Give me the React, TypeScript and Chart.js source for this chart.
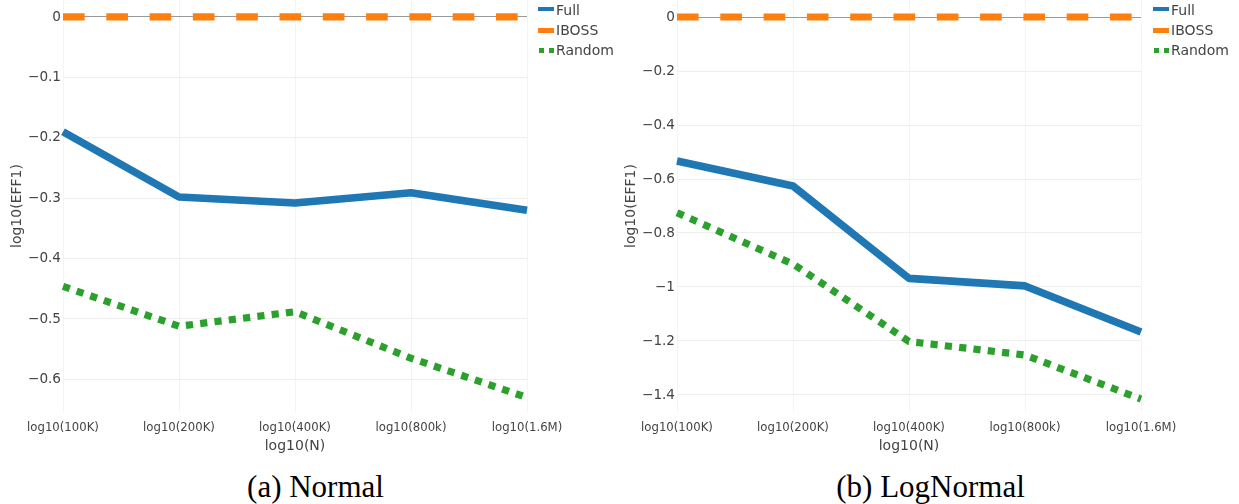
import React, { useEffect, useRef } from 'react';
import { Chart, registerables } from 'chart.js';

Chart.register(...registerables);

const categories = ['log10(100K)', 'log10(200K)', 'log10(400K)', 'log10(800k)', 'log10(1.6M)'];
const seriesNames = ['Full', 'IBOSS', 'Random'];
const seriesColors = ['#1f77b4', '#ff7f0e', '#2ca02c'];

const normalFull = [-0.19, -0.298, -0.308, -0.291, -0.32];
const normalIboss = [0, 0, 0, 0, 0];
const normalRandom = [-0.446, -0.512, -0.488, -0.565, -0.63];

const lognormalFull = [-0.533, -0.626, -0.968, -0.996, -1.167];
const lognormalIboss = [0, 0, 0, 0, 0];
const lognormalRandom = [-0.725, -0.915, -1.202, -1.252, -1.415];

const xTitle = 'log10(N)';
const yTitle = 'log10(EFF1)';
const captions = ['(a) Normal', '(b) LogNormal'];

const SANS = '"DejaVu Sans", Verdana, sans-serif';
const TEXT = '#444';

function fmt(v: number): string {
  const r = Math.round(v * 100) / 100;
  if (r === 0) return '0';
  const s = String(Math.abs(r));
  return r < 0 ? '\u2212' + s : s;
}

type PanelProps = {
  left: number;
  full: number[];
  iboss: number[];
  random: number[];
  yMin: number;
  yMax: number;
  step: number;
};

function Panel({ left, full, iboss, random, yMin, yMax, step }: PanelProps) {
  const ref = useRef<HTMLCanvasElement>(null);
  useEffect(() => {
    if (!ref.current) return;
    const values = [full, iboss, random];
    const dashes = [[], [21.65, 21.65], [7.2, 7.2]];
    const widths = [7.6, 7.2, 7.2];
    const chart = new Chart(ref.current, {
      type: 'line',
      data: {
        labels: categories,
        datasets: seriesNames.map((name, i) => ({
          label: name,
          data: values[i],
          borderColor: seriesColors[i],
          backgroundColor: seriesColors[i],
          borderWidth: widths[i],
          borderDash: dashes[i],
          borderCapStyle: 'butt',
          borderJoinStyle: 'round',
          pointRadius: 0,
          pointHoverRadius: 0,
          tension: 0,
          fill: false,
        })),
      },
      options: {
        animation: false,
        responsive: false,
        maintainAspectRatio: false,
        events: [],
        layout: { padding: { top: 0, left: 0, right: 50, bottom: 5.6 } },
        plugins: { legend: { display: false }, tooltip: { enabled: false } },
        scales: {
          x: {
            type: 'category',
            offset: false,
            border: { display: false },
            grid: { color: '#f4f4f4', drawTicks: false, lineWidth: 1 },
            ticks: {
              color: TEXT,
              font: { family: SANS, size: 11.7 },
              padding: 9,
              maxRotation: 0,
              autoSkip: false,
            },
            title: {
              display: true,
              text: xTitle,
              color: TEXT,
              font: { family: SANS, size: 14 },
              padding: { top: 0, bottom: 0 },
            },
            afterFit: (s: any) => {
              s.height = 42.4;
            },
          },
          y: {
            type: 'linear',
            min: yMin,
            max: yMax,
            border: { display: false },
            grid: {
              drawTicks: false,
              lineWidth: 1,
              color: (c: any) => (c.tick && Math.abs(c.tick.value) < 1e-9 ? '#9a9a9a' : '#eeeeee'),
            },
            ticks: {
              stepSize: step,
              includeBounds: false,
              color: TEXT,
              font: { family: SANS, size: 13.6 },
              padding: 2,
              callback: (v: any) => fmt(Number(v)),
            },
            title: {
              display: true,
              text: yTitle,
              color: TEXT,
              font: { family: SANS, size: 14 },
              padding: { top: 9, bottom: 0 },
            },
            afterFit: (s: any) => {
              s.width = 63;
              s.paddingTop = 0;
              s.paddingBottom = 0;
            },
          },
        },
      },
    } as any);
    return () => chart.destroy();
  }, []);
  return (
    <canvas
      ref={ref}
      width={577}
      height={460}
      style={{ position: 'absolute', left, top: 0, width: 577, height: 460 }}
    />
  );
}

function Legend({ left }: { left: number }) {
  const rows = seriesNames.map((name, i) => {
    let sample;
    if (i === 0) {
      sample = <div style={{ position: 'absolute', left: 0, top: 7, width: 16, height: 4, background: seriesColors[0] }} />;
    } else if (i === 1) {
      sample = <div style={{ position: 'absolute', left: 0, top: 27.5, width: 16, height: 5, background: seriesColors[1] }} />;
    } else {
      sample = (
        <>
          <div style={{ position: 'absolute', left: 0.5, top: 47.5, width: 5, height: 5, background: seriesColors[2] }} />
          <div style={{ position: 'absolute', left: 10.5, top: 47.5, width: 5, height: 5, background: seriesColors[2] }} />
        </>
      );
    }
    return (
      <React.Fragment key={name}>
        {sample}
        <div
          style={{
            position: 'absolute',
            left: 18,
            top: -0.5 + i * 20,
            lineHeight: '20px',
            fontFamily: SANS,
            fontSize: 14,
            color: TEXT,
            whiteSpace: 'nowrap',
          }}
        >
          {name}
        </div>
      </React.Fragment>
    );
  });
  return <div style={{ position: 'absolute', left, top: 0, width: 90, height: 60 }}>{rows}</div>;
}

function Caption({ center, text }: { center: number; text: string }) {
  return (
    <div
      style={{
        position: 'absolute',
        left: center - 200,
        width: 400,
        top: 466.5,
        lineHeight: '40px',
        textAlign: 'center',
        fontFamily: '"Liberation Serif", "Times New Roman", serif',
        fontSize: 31,
        color: '#000',
        whiteSpace: 'nowrap',
      }}
    >
      {text}
    </div>
  );
}

export default function App() {
  return (
    <div style={{ position: 'absolute', left: 0, top: 0, width: 1239, height: 504, background: '#fff', overflow: 'hidden' }}>
      <Panel left={0} full={normalFull} iboss={normalIboss} random={normalRandom} yMin={-0.654} yMax={0.0281} step={0.1} />
      <Panel left={614} full={lognormalFull} iboss={lognormalIboss} random={lognormalRandom} yMin={-1.463} yMax={0.063} step={0.2} />
      <Legend left={538} />
      <Legend left={1153} />
      <Caption center={315.5} text={captions[0]} />
      <Caption center={930.5} text={captions[1]} />
    </div>
  );
}
